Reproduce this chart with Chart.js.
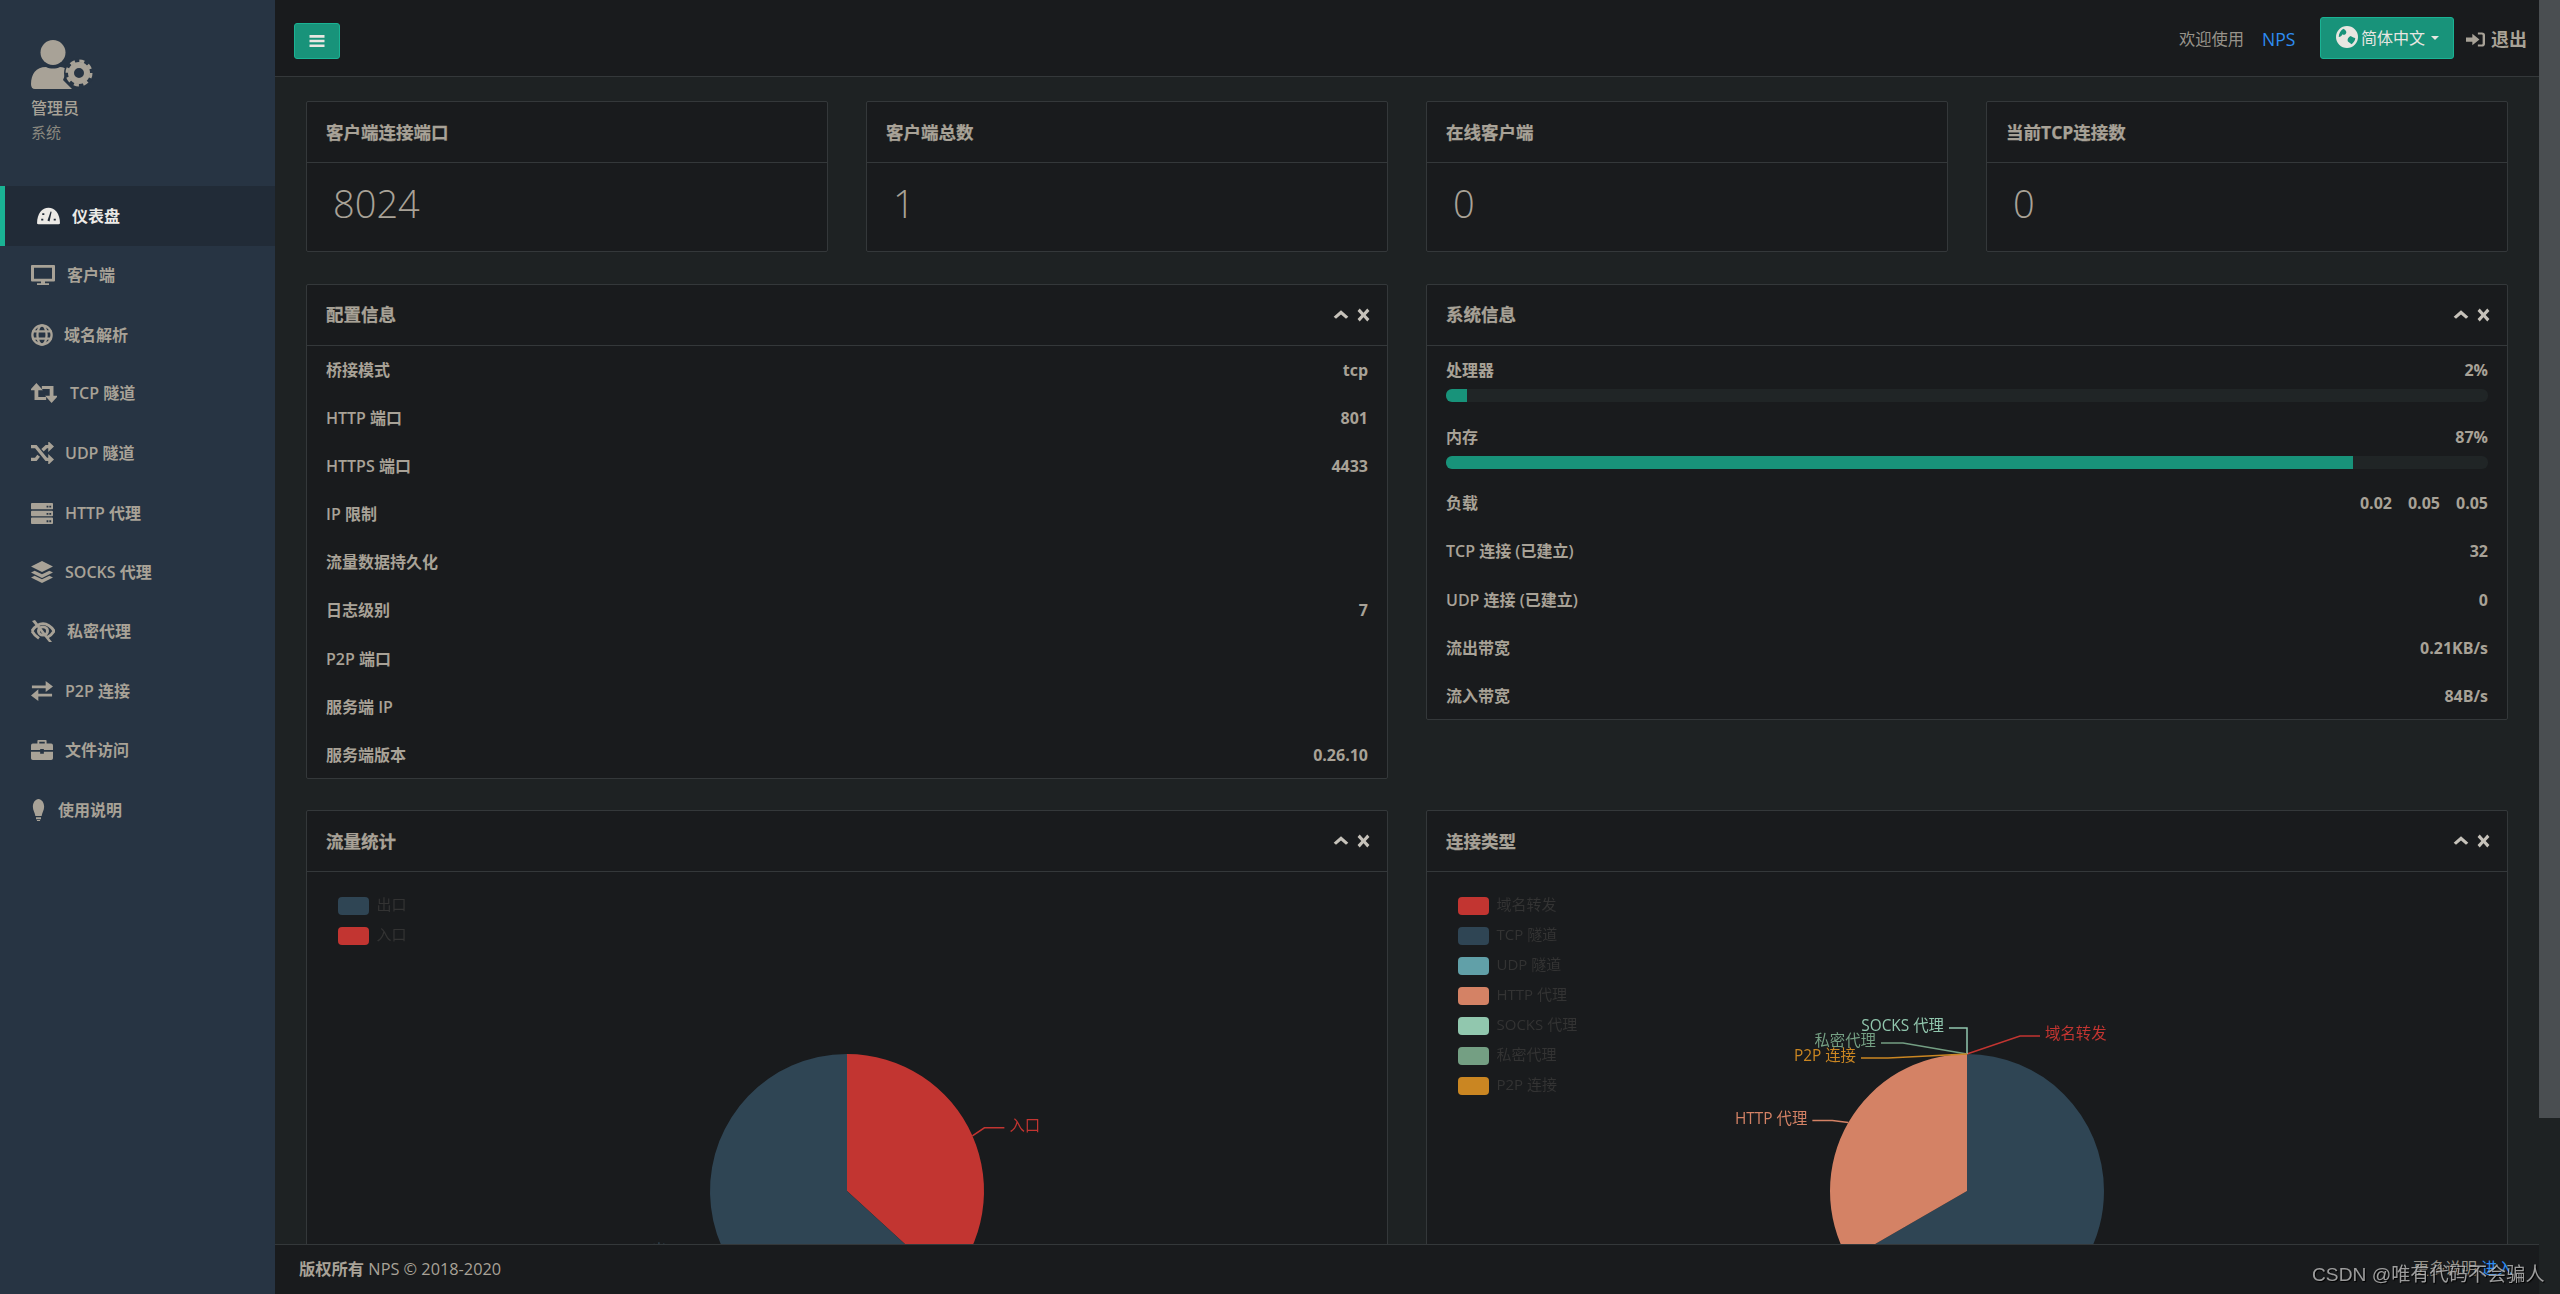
<!DOCTYPE html>
<html lang="zh-CN">
<head>
<meta charset="utf-8">
<title>NPS 仪表盘</title>
<script src="https://cdn.jsdelivr.net/npm/chart.js@4/dist/chart.umd.min.js"></script>
<style>
html, body { margin: 0; padding: 0; width: 2560px; height: 1294px; overflow: hidden; background: #1e2223; }
body { position: relative; font-family: "Open Sans", "Noto Sans CJK SC", sans-serif; font-size: 16px; color: #a8a297; }
svg { display: block; fill: currentColor; }
.abs { position: absolute; }
#sidebar { left: 0; top: 0; width: 275px; height: 1294px; background: #273443; }
#topbar { left: 275px; top: 0; width: 2264px; height: 76px; background: #191b1d; border-bottom: 1px solid #34383a; box-sizing: content-box; }
#scrollthumb { left: 2539px; top: 0; width: 21px; height: 1118px; background: #4a4e51; }
#footer { left: 275px; top: 1244px; width: 2264px; height: 50px; background: #191b1d; border-top: 1px solid #34383a; box-sizing: border-box; z-index: 5; }
.nav { position: absolute; left: 0; width: 275px; height: 60px; line-height: 60px; font-weight: 600; }
.nav.active { background: #212b37; color: #eceae6; font-weight: 700; }
.nav.active::before { content: ""; position: absolute; left: 0; top: 0; bottom: 0; width: 5px; background: #1ab394; }
.nav svg { position: absolute; top: 19px; }
.nav span { position: absolute; white-space: nowrap; }
.card { position: absolute; box-sizing: border-box; background: #191b1d; border: 1px solid #34383a; border-radius: 2px; }
.card .head { height: 60px; line-height: 60px; padding-left: 19px; font-size: 17.5px; font-weight: 700; -webkit-text-stroke: .25px; border-bottom: 1px solid #34383a; }
.card .tools { position: absolute; right: 17px; top: 23px; display: flex; gap: 8px; color: #c6c2ba; }
.stat { position: absolute; left: 26px; top: 73px; font-size: 38px; font-weight: 300; line-height: 56px; }
.row { position: relative; margin: 0 19px; display: flex; justify-content: space-between; line-height: 46.5px; font-weight: 600; }
.row b { font-weight: 700; }
.row b span { margin-left: 16px; }
.bar { position: absolute; left: 0; right: 0; top: 42px; height: 13px; background: #202526; border-radius: 6px; overflow: hidden; }
.bar i { display: block; height: 100%; background: #18937a; }
canvas { position: absolute; }
#watermark { left: 2312px; top: 1259px; z-index: 7; font: 19.200px "Liberation Sans", "Noto Sans CJK SC", sans-serif; color: rgba(196,196,196,.78); text-shadow: 1px 1px 1px #000; white-space: nowrap; }
</style>
</head>
<body>
<div id="sidebar" class="abs"></div>
<div id="topbar" class="abs"></div>
<div id="scrollthumb" class="abs"></div>
<div id="cards"></div>
<canvas id="trafficChart" width="1042" height="612" style="left:326px;top:885px"></canvas>
<canvas id="connChart" width="1042" height="612" style="left:1446px;top:885px"></canvas>
<div id="footer" class="abs"></div>
<div id="watermark" class="abs">CSDN @唯有代码不会骗人</div>

<script>
// Sidebar
const navLabels = ['仪表盘', '客户端', '域名解析', 'TCP 隧道', 'UDP 隧道', 'HTTP 代理', 'SOCKS 代理', '私密代理', 'P2P 连接', '文件访问', '使用说明'];
const navIcons = ['gauge', 'desktop', 'globe', 'retweet', 'random', 'server', 'layers', 'eye', 'exchange', 'case', 'bulb'];

// Stat cards
const statTitles = ['客户端连接端口', '客户端总数', '在线客户端', '当前TCP连接数'];
const statValues = ['8024', '1', '0', '0'];

// Config panel
const configLabels = ['桥接模式', 'HTTP 端口', 'HTTPS 端口', 'IP 限制', '流量数据持久化', '日志级别', 'P2P 端口', '服务端 IP', '服务端版本'];
const configValues = ['tcp', '801', '4433', '', '', '7', '', '', '0.26.10'];

// System panel
const systemLabels = ['处理器', '内存', '负载', 'TCP 连接 (已建立)', 'UDP 连接 (已建立)', '流出带宽', '流入带宽'];
const systemValues = ['2%', '87%', '<span>0.02</span><span>0.05</span><span>0.05</span>', '32', '0', '0.21KB/s', '84B/s'];
const cpuPercent = 2;
const memPercent = 87;

// Traffic pie
const trafficLabels = ['入口', '出口'];
const trafficValues = [36.8, 63.2];
const trafficColors = ['#c23531', '#2f4554'];

// Connection type pie
const connLabels = ['域名转发', 'TCP 隧道', 'UDP 隧道', 'HTTP 代理', 'SOCKS 代理', '私密代理', 'P2P 连接'];
const connValues = [0, 2, 0, 1, 0, 0, 0];
const connColors = ['#c23531', '#2f4554', '#61a0a8', '#d48265', '#91c7ae', '#749f83', '#ca8622'];

const icons = {
    gauge: '<path d="M1 20C1 9 6 3 12 3s11 6 11 17c0 1-1 1-2 1H3c-1 0-2 0-2-1z"/><path fill="#212b37" d="M11 17l3-10 1 .4-2 10.600zM5 15h2v2H5zM17 15h2v2h-2zM6 9h2v2H6z"/>',
    desktop: '<path fill-rule="evenodd" d="M1 1h22a1 1 0 0 1 1 1v16a1 1 0 0 1-1 1H14v2h4v2H6v-2h4v-2H1a1 1 0 0 1-1-1V2a1 1 0 0 1 1-1zm2 3v12h18V4z"/>',
    globe: '<g fill="none" stroke="currentColor" stroke-width="2.500"><circle cx="12" cy="12" r="10.500"/><ellipse cx="12" cy="12" rx="5" ry="10.500"/><path d="M1.500 8h21M1.500 16h21"/></g>',
    retweet: '<g fill="none" stroke="currentColor" stroke-width="3.500"><path d="M5 8v10h9M19 16V6h-9"/></g><path d="M-1 9l6-8 6 8zM13 15l6 8 6-8z"/>',
    random: '<g fill="none" stroke="currentColor" stroke-width="3.500"><path d="M0 5h5l11 14h3M0 19h5l3-4M12 9l4-4h3"/></g><path d="M18 -1l6 6-6 6zM18 13l6 6-6 6z"/>',
    server: '<path fill-rule="evenodd" d="M1 1h22a1 1 0 0 1 1 1v5a1 1 0 0 1-1 1H1a1 1 0 0 1-1-1V2a1 1 0 0 1 1-1zm0 8.500h22a1 1 0 0 1 1 1v4a1 1 0 0 1-1 1H1a1 1 0 0 1-1-1v-4a1 1 0 0 1 1-1zM1 17h22a1 1 0 0 1 1 1v5a1 1 0 0 1-1 1H1a1 1 0 0 1-1-1v-5a1 1 0 0 1 1-1zM17 4h2v2h-2zm3 0h2v2h-2zm-3 8h2v2h-2zm3 0h2v2h-2zm-3 8h2v2h-2zm3 0h2v2h-2z"/>',
    layers: '<path d="M12 0l12 6-12 6L0 6zM4 10.500l8 4 8-4 4 2-12 6-12-6zM4 16l8 4 8-4 4 2-12 6-12-6z"/>',
    eye: '<path d="M4 0l17 24-3 0L1 1z"/><g fill="none" stroke="currentColor" stroke-width="3"><path d="M1 12c3-5 7-8 11-8s8 3 11 8c-2 4-5 6-7 7M8 20c-3-2-5-4-7-8"/><circle cx="12" cy="12" r="4.500"/></g>',
    exchange: '<path d="M1 6h15V1l8 6-8 6V9H1zM23 15H8v-5l-8 7 8 6v-5h15z"/>',
    case: '<path d="M8 1h8a1 1 0 0 1 1 1v3h5a2 2 0 0 1 2 2v5H14v-1h-4v1H0V7a2 2 0 0 1 2-2h5V2a1 1 0 0 1 1-1zm1 2v2h6V3zM0 14h10v2h4v-2h10v7a2 2 0 0 1-2 2H2a2 2 0 0 1-2-2z"/>',
    bulb: '<path d="M12 0c5 0 9 4 9 8.500 0 4-3 6-4 10H7c-1-4-4-6-4-10C3 4 7 0 12 0zM8 20h8v2h-8zM9.500 23h5v1h-5z"/>',
    bars: '<path d="M2 4h20v3.500H2zM2 10.200h20v3.500H2zM2 16.500h20V20H2z"/>',
    world: '<path fill-rule="evenodd" d="M12 0a12 12 0 1 1 0 24 12 12 0 0 1 0-24zM8 3C5 5 3 8 3 12c2 0 3-1 4-3 1 1 3 1 4-1 1-2-1-4-3-5zm8 8c-2 1-4 3-3 6l4 3c2-2 4-4 4-7-2 0-3-1-5-2z"/>',
    signin: '<path d="M0 9h8V4l9 8-9 8v-5H0zM15 2h5a4 4 0 0 1 4 4v12a4 4 0 0 1-4 4h-5v-3h5a1 1 0 0 0 1-1V6a1 1 0 0 0-1-1h-5z"/>',
    chevron: '<path d="M12 4l11 11-3.500 3.500L12 11l-7.500 7.500L1 15z"/>',
    times: '<path d="M5 1l7 7 7-7 4 4-7 7 7 7-4 4-7-7-7 7-4-4 7-7-7-7z"/>'
};
function icon(name, w, h, extra) {
    return '<svg viewBox="0 0 24 24" preserveAspectRatio="none" width="' + w + '" height="' + h + '" style="' + (extra || '') + '">' + icons[name] + '</svg>';
}

// Sidebar content
const sidebar = document.getElementById('sidebar');
let sideHtml = '<svg class="abs" style="left:31px;top:40px" width="62" height="49" viewBox="31 40 62 49">' +
    '<circle cx="53" cy="52.500" r="12.500"/>' +
    '<path d="M31 84c0-10 5-17 15-17 4 2 10 2 14 0 3 0 5 1 7 3l-4 10 9 9H35q-4 0-4-5z"/>' +
    '<circle cx="79" cy="73" r="13.500" fill="#273443" stroke="#273443" stroke-width="3"/>' +
    '<circle cx="79" cy="73" r="8" fill="none" stroke="currentColor" stroke-width="6"/>' +
    '<circle cx="79" cy="73" r="12" fill="none" stroke="currentColor" stroke-width="3" stroke-dasharray="5 4.420"/>' +
    '</svg>' +
    '<div class="abs" style="left:31px;top:96px;line-height:24px;font-weight:500">管理员</div>' +
    '<div class="abs" style="left:31px;top:120px;line-height:24px;font-size:15px;color:#8a887f">系统</div>';
const navTextX = [72, 67, 64, 70, 65, 65, 65, 67, 65, 65, 58];
const navIconW = [25, 24, 22, 26, 23, 22, 22, 24, 22, 22, 15];
const navCenters = [216, 275, 335, 393, 453, 513, 572, 631, 691, 750, 810];
navLabels.forEach(function (label, i) {
    const x = i === 0 ? 36 : 31;
    sideHtml += '<div class="nav' + (i === 0 ? ' active' : '') + '" style="top:' + (navCenters[i] - 30) + 'px">' +
        icon(navIcons[i], navIconW[i], 22, 'left:' + x + 'px') +
        '<span style="left:' + navTextX[i] + 'px">' + label + '</span></div>';
});
sidebar.innerHTML = sideHtml;

// Top bar and footer
document.getElementById('topbar').innerHTML =
    '<div class="abs" style="left:19px;top:23px;width:46px;height:36px;box-sizing:border-box;background:#18937a;border:1px solid #1ab394;border-radius:3px;color:#e8e6e1">' + icon('bars', 18, 18, 'margin:8px 13px') + '</div>' +
    '<div class="abs" style="left:1904px;top:27px;line-height:24px;font-size:16.300px;color:#97938a">欢迎使用</div>' +
    '<div class="abs" style="left:1987px;top:27px;line-height:24px;color:#2e8df2;font-size:17.500px">NPS</div>' +
    '<div class="abs" style="left:2045px;top:17px;width:134px;height:42px;box-sizing:border-box;background:#18937a;border:1px solid #1ab394;border-radius:3px;color:#e8e6e1">' +
        icon('world', 22, 22, 'position:absolute;left:15px;top:8px') +
        '<span class="abs" style="left:40px;top:8px;line-height:24px;white-space:nowrap">简体中文</span>' +
        '<span class="abs" style="left:110px;top:18px;border:4px solid transparent;border-top-color:#e8e6e1"></span></div>' +
    icon('signin', 19, 17, 'position:absolute;left:2191px;top:31px') +
    '<div class="abs" style="left:2216px;top:27px;line-height:24px;font-size:18px;font-weight:700">退出</div>';

document.getElementById('footer').innerHTML =
    '<div class="abs" style="left:24px;top:12px;line-height:24px;white-space:nowrap;font-size:16.300px"><span style="font-weight:700">版权所有</span> NPS © 2018-2020</div>' +
    '<div class="abs" style="left:2138px;top:11px;line-height:24px;white-space:nowrap;color:#97938a">更多说明 <span style="color:#2e8df2">进入</span></div>';

// Cards
const tools = '<div class="tools">' + icon('chevron', 16, 14) + icon('times', 13, 14) + '</div>';
function card(x, y, w, h, title, body, withTools, headLine) {
    return '<div class="card" style="left:' + x + 'px;top:' + y + 'px;width:' + w + 'px;height:' + h + 'px">' +
        '<div class="head" style="line-height:' + (headLine || 59) + 'px">' + title + '</div>' + (withTools ? tools : '') + body + '</div>';
}

let cardsHtml = '';
const statX = [306, 866, 1426, 1986];
statTitles.forEach(function (title, i) {
    cardsHtml += card(statX[i], 101, 522, 151, title, '<div class="stat">' + statValues[i] + '</div>', false, 61);
});

let configRows = '<div style="height:1px"></div>';
configLabels.forEach(function (label, i) {
    configRows += '<div class="row" style="height:48.100px"><span>' + label + '</span><b>' + configValues[i] + '</b></div>';
});
cardsHtml += card(306, 284, 1082, 495, '配置信息', configRows, true);

const barPercents = [cpuPercent, memPercent];
let systemRows = '<div style="height:1px"></div>';
systemLabels.forEach(function (label, i) {
    const bar = i < 2 ? '<div class="bar"><i style="width:' + barPercents[i] + '%"></i></div>' : '';
    systemRows += '<div class="row" style="height:' + (i < 2 ? 66.5 : 48.3) + 'px"><span>' + label + '</span><b>' + systemValues[i] + '</b>' + bar + '</div>';
});
cardsHtml += card(1426, 284, 1082, 436, '系统信息', systemRows, true);

cardsHtml += card(306, 810, 1082, 600, '流量统计', '', true, 61);
cardsHtml += card(1426, 810, 1082, 600, '连接类型', '', true, 61);
document.getElementById('cards').innerHTML = cardsHtml;

// Outside labels with a leader line, [dx, dy, run] from the slice edge
const leaderLabels = {
    id: 'leaderLabels',
    afterDatasetsDraw(chart, args, opts) {
        const ctx = chart.ctx;
        const arcs = chart.getDatasetMeta(0).data;
        ctx.save();
        ctx.font = '15.400px "Open Sans", "Noto Sans CJK SC", sans-serif';
        ctx.lineWidth = 1.5;
        ctx.textBaseline = 'middle';
        arcs.forEach(function (arc, i) {
            const label = chart.data.labels[i];
            const color = chart.data.datasets[0].backgroundColor[i];
            const mid = (arc.startAngle + arc.endAngle) / 2;
            const px = arc.x + Math.cos(mid) * arc.outerRadius;
            const py = arc.y + Math.sin(mid) * arc.outerRadius;
            const side = Math.cos(mid) >= 0 ? 1 : -1;
            const bend = opts.bends[label] || [Math.cos(mid) * 16, Math.sin(mid) * 16, side * 20];
            const bx = px + bend[0];
            const by = py + bend[1];
            const ex = bx + bend[2];
            ctx.strokeStyle = color;
            ctx.fillStyle = color;
            ctx.beginPath();
            ctx.moveTo(px, py);
            ctx.lineTo(bx, by);
            ctx.lineTo(ex, by);
            ctx.stroke();
            ctx.textAlign = bend[2] >= 0 ? 'left' : 'right';
            ctx.fillText(label, ex + (bend[2] >= 0 ? 5 : -5), by - 1);
        });
        ctx.restore();
    }
};

function createPie(canvasId, labels, values, colors, bends, legendSort) {
    new Chart(document.getElementById(canvasId), {
        type: 'pie',
        data: {
            labels: labels,
            datasets: [{
                data: values,
                backgroundColor: colors,
                borderWidth: 0,
                radius: 137
            }]
        },
        options: {
            responsive: false,
            animation: false,
            layout: { padding: 0 },
            plugins: {
                tooltip: { enabled: false },
                legend: {
                    position: 'chartArea',
                    align: 'start',
                    labels: {
                        boxWidth: 31,
                        boxHeight: 18,
                        padding: 12,
                        useBorderRadius: true,
                        borderRadius: 4,
                        color: '#333',
                        font: { size: 15, family: '"Open Sans", "Noto Sans CJK SC", sans-serif' },
                        sort: legendSort
                    }
                },
                leaderLabels: { bends: bends }
            }
        },
        plugins: [leaderLabels]
    });
}

createPie('trafficChart', trafficLabels, trafficValues, trafficColors, {
    '入口': [12, -8, 20]
}, function (a, b) { return b.index - a.index; });

createPie('connChart', connLabels, connValues, connColors, {
    '域名转发': [53, -18, 20],
    'HTTP 代理': [-16, -2, -20],
    'SOCKS 代理': [0, -26, -18],
    '私密代理': [-64, -11, -22],
    'P2P 连接': [-79, 4, -27]
});
</script>
</body>
</html>
